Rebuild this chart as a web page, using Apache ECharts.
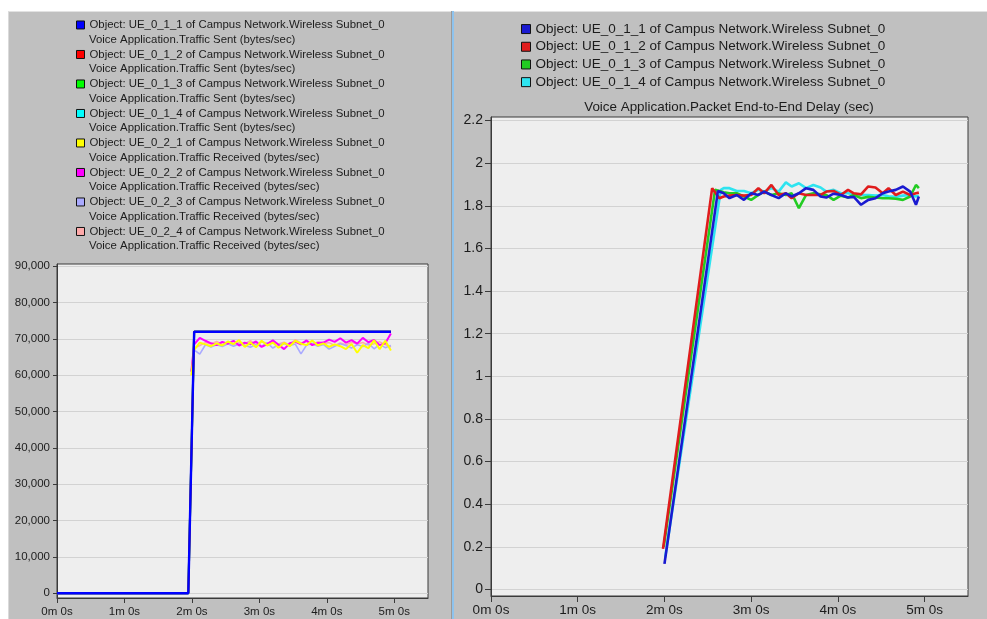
<!DOCTYPE html>
<html><head><meta charset="utf-8">
<script src="https://cdn.jsdelivr.net/npm/echarts@6/dist/echarts.min.js"></script>
<style>
html,body{margin:0;padding:0;background:#fff;width:987px;height:619px;overflow:hidden}
.p{position:absolute;box-sizing:border-box}
#chart{position:absolute;left:0;top:0;width:987px;height:619px}
</style></head><body>
<div class="p" style="left:8px;top:11px;width:443px;height:608px;background:#c0c0c0;border-top:1px solid #e2e2e2;border-left:1px solid #dadada"></div>
<div class="p" style="left:451px;top:11px;width:1px;height:608px;background:#9a9a9a"></div>
<div class="p" style="left:452px;top:11px;width:2px;height:608px;background:#8ec3ee"></div>
<div class="p" style="left:454px;top:11px;width:533px;height:608px;background:#c0c0c0;border-top:1px solid #e2e2e2"></div>
<div id="chart"></div>
<script>
// ---------- tick labels ----------
const timeTicks = [0, 60, 120, 180, 240, 300];
const leftYTicks = [0, 10000, 20000, 30000, 40000, 50000, 60000, 70000, 80000, 90000];
const rightYTicks = [0, 0.2, 0.4, 0.6, 0.8, 1, 1.2, 1.4, 1.6, 1.8, 2, 2.2];

// ---------- left chart: traffic sent / received ----------
const leftNames = [
  "Object: UE_0_1_1 of Campus Network.Wireless Subnet_0\nVoice Application.Traffic Sent (bytes/sec)",
  "Object: UE_0_1_2 of Campus Network.Wireless Subnet_0\nVoice Application.Traffic Sent (bytes/sec)",
  "Object: UE_0_1_3 of Campus Network.Wireless Subnet_0\nVoice Application.Traffic Sent (bytes/sec)",
  "Object: UE_0_1_4 of Campus Network.Wireless Subnet_0\nVoice Application.Traffic Sent (bytes/sec)",
  "Object: UE_0_2_1 of Campus Network.Wireless Subnet_0\nVoice Application.Traffic Received (bytes/sec)",
  "Object: UE_0_2_2 of Campus Network.Wireless Subnet_0\nVoice Application.Traffic Received (bytes/sec)",
  "Object: UE_0_2_3 of Campus Network.Wireless Subnet_0\nVoice Application.Traffic Received (bytes/sec)",
  "Object: UE_0_2_4 of Campus Network.Wireless Subnet_0\nVoice Application.Traffic Received (bytes/sec)"
];
const leftColors = ['#0000ff', '#ff0000', '#00ff00', '#00ffff', '#ffff00', '#ff00ff', '#aaaaff', '#ffaaaa'];

const sentTime = [0, 116.8, 122, 146, 147.5, 149, 297];
const sentValues = [0, 0, 72000, 72000, 72300, 72000, 72000];

const recvTime = [119.5, 122, 127, 132, 137, 142, 147, 152, 157, 162, 167, 172, 177, 182, 187, 192, 197, 202, 207, 212, 217, 222, 227, 232, 237, 242, 247, 252, 257, 262, 267, 272, 277, 282, 287, 292, 297];
const recvYellow = [60000, 67000, 69000, 68500, 68000, 68800, 68200, 69300, 68600, 69700, 67800, 69000, 67700, 69500, 68200, 69000, 67600, 68900, 68000, 69500, 68700, 68300, 69600, 68200, 68800, 67800, 68500, 68000, 67200, 68600, 66200, 68300, 67500, 69600, 67200, 69500, 66800];
const recvMagenta = [61000, 68500, 70300, 69500, 68800, 68300, 69200, 68700, 69500, 68200, 69000, 68500, 69300, 67800, 68600, 69600, 68400, 67200, 68800, 69200, 68500, 69600, 68300, 68900, 69000, 69800, 69200, 70200, 69000, 69700, 68700, 70300, 69100, 69700, 68300, 68800, 71500];
const recvLavender = [61000, 67000, 65800, 68400, 67800, 68400, 67900, 68700, 68000, 68600, 68300, 67700, 68500, 68000, 68900, 67500, 68400, 68700, 68200, 68600, 65900, 68300, 68800, 68000, 68500, 67200, 68000, 68700, 68200, 67500, 68400, 67900, 68800, 67300, 68500, 67600, 68200];
const recvPink = [61000, 67500, 68200, 69000, 68600, 69300, 68500, 69200, 68400, 69000, 68700, 69500, 68400, 69200, 68800, 69400, 68600, 69100, 68300, 69800, 68900, 69300, 68500, 69200, 68700, 69000, 68200, 68900, 68400, 69100, 68600, 69000, 68300, 68700, 69200, 68500, 67800];

// ---------- right chart: packet end-to-end delay ----------
const rightNames = [
  "Object: UE_0_1_1 of Campus Network.Wireless Subnet_0",
  "Object: UE_0_1_2 of Campus Network.Wireless Subnet_0",
  "Object: UE_0_1_3 of Campus Network.Wireless Subnet_0",
  "Object: UE_0_1_4 of Campus Network.Wireless Subnet_0"
];
const rightColors = ['#1a1ad0', '#e01c1c', '#22cc22', '#2ee4f0'];
const rightTitle = 'Voice Application.Packet End-to-End Delay (sec)';

const blueRiseT = [120, 157];   const blueRiseV = [0.12, 1.87];
const redRiseT = [119, 153, 158]; const redRiseV = [0.19, 1.883, 1.836];
const greenRiseT = [119.5, 155]; const greenRiseV = [0.2, 1.875];
const cyanRiseT = [120.5, 159]; const cyanRiseV = [0.15, 1.875];

const delayTime = [161, 165, 170, 175, 180, 185, 189, 194, 199, 204, 208, 213, 218, 223, 228, 232, 237, 242, 247, 251, 256, 261, 266, 271, 275, 280, 285, 290, 294, 296];
const delayBlue = [1.859, 1.836, 1.851, 1.828, 1.859, 1.851, 1.867, 1.851, 1.836, 1.859, 1.844, 1.859, 1.883, 1.875, 1.844, 1.839, 1.857, 1.851, 1.839, 1.842, 1.805, 1.828, 1.836, 1.859, 1.867, 1.875, 1.891, 1.867, 1.805, 1.844];
const delayRed = [1.844, 1.848, 1.851, 1.848, 1.851, 1.883, 1.859, 1.898, 1.851, 1.859, 1.836, 1.859, 1.851, 1.851, 1.851, 1.867, 1.870, 1.851, 1.875, 1.859, 1.854, 1.891, 1.886, 1.859, 1.883, 1.851, 1.867, 1.851, 1.859, 1.862];
const delayGreen = [1.864, 1.859, 1.859, 1.844, 1.828, 1.851, 1.867, 1.851, 1.859, 1.851, 1.859, 1.789, 1.851, 1.859, 1.854, 1.851, 1.828, 1.848, 1.839, 1.851, 1.836, 1.842, 1.839, 1.836, 1.836, 1.833, 1.828, 1.844, 1.898, 1.883];
const delayCyan = [1.883, 1.883, 1.870, 1.870, 1.859, 1.875, 1.867, 1.883, 1.867, 1.910, 1.891, 1.906, 1.883, 1.898, 1.886, 1.867, 1.875, 1.859, 1.859, 1.854, 1.851, 1.851, 1.848, 1.851, 1.845, 1.842, 1.848, 1.851, 1.844, 1.848];

// ---------- build ----------
const FONT = '"Liberation Sans", Arial, sans-serif';
const TXT = '#1c1c1c';
const AX = '#3a3a3a';
function zip(t, v) { return t.map((x, i) => [x, v[i]]); }
function timeFmt(v) { return (v / 60) + 'm 0s'; }

function lineSeries(name, color, data, width, xi, z) {
  return {
    type: 'line', name: name, data: data, xAxisIndex: xi, yAxisIndex: xi,
    showSymbol: false, symbol: 'none', z: z,
    itemStyle: { color: color },
    lineStyle: { color: color, width: width },
    animation: false
  };
}

const series = [];
// received (left)
series.push(lineSeries(leftNames[7], leftColors[7], zip(recvTime, recvPink), 1.6, 0, 2));
series.push(lineSeries(leftNames[6], leftColors[6], zip(recvTime, recvLavender), 1.6, 0, 2));
series.push(lineSeries(leftNames[5], leftColors[5], zip(recvTime, recvMagenta), 2, 0, 3));
series.push(lineSeries(leftNames[4], leftColors[4], zip(recvTime, recvYellow), 2, 0, 4));
// sent (left) – identical curves, blue on top
series.push(lineSeries(leftNames[3], leftColors[3], zip(sentTime, sentValues), 2, 0, 5));
series.push(lineSeries(leftNames[2], leftColors[2], zip(sentTime, sentValues), 2, 0, 5));
series.push(lineSeries(leftNames[1], leftColors[1], zip(sentTime, sentValues), 2, 0, 5));
series.push(lineSeries(leftNames[0], leftColors[0], zip(sentTime, sentValues), 2.4, 0, 6));
// delay (right)
series.push(lineSeries(rightNames[3], rightColors[3], zip(cyanRiseT.concat(delayTime), cyanRiseV.concat(delayCyan)), 2.6, 1, 2));
series.push(lineSeries(rightNames[2], rightColors[2], zip(greenRiseT.concat(delayTime), greenRiseV.concat(delayGreen)), 2.6, 1, 3));
series.push(lineSeries(rightNames[1], rightColors[1], zip(redRiseT.concat(delayTime), redRiseV.concat(delayRed)), 2.6, 1, 4));
series.push(lineSeries(rightNames[0], rightColors[0], zip(blueRiseT.concat(delayTime), blueRiseV.concat(delayBlue)), 2.6, 1, 5));

function xAxisCfg(gi, fs, tickLen, margin) {
  return {
    gridIndex: gi, type: 'value', min: 0, max: 330,
    axisLine: { show: true, onZero: false, lineStyle: { color: AX, width: 1 } },
    axisTick: { show: true, customValues: timeTicks, length: tickLen, lineStyle: { color: AX } },
    axisLabel: { customValues: timeTicks, formatter: timeFmt, fontFamily: FONT, fontSize: fs, color: TXT, margin: margin },
    splitLine: { show: false }
  };
}

// left legend: first text line with the colour square, second line beneath it
const LEG_LH = 14.75;
function leftLegend(top, lineIdx, withIcon) {
  return {
    orient: 'vertical', left: 76, top: top, padding: 0, itemGap: LEG_LH,
    itemWidth: 8, itemHeight: 8, icon: 'rect', selectedMode: false,
    itemStyle: withIcon
      ? { borderColor: '#111', borderWidth: 1 }
      : { color: 'rgba(0,0,0,0)', borderColor: 'rgba(0,0,0,0)', borderWidth: 0 },
    formatter: n => n.split('\n')[lineIdx],
    textStyle: { fontFamily: FONT, fontSize: 11.4, color: TXT, lineHeight: LEG_LH },
    data: leftNames
  };
}

const option = {
  animation: false,
  backgroundColor: 'transparent',
  title: {
    text: rightTitle, left: 729, top: 101, textAlign: 'center', padding: 0,
    textStyle: { fontFamily: FONT, fontSize: 13.4, fontWeight: 'normal', color: TXT }
  },
  legend: [
    leftLegend(17.6, 0, true),
    leftLegend(17.6 + LEG_LH, 1, false),
    {
      orient: 'vertical', left: 521, top: 20.2, padding: 0, itemGap: 0,
      itemWidth: 9, itemHeight: 9, icon: 'rect', selectedMode: false,
      itemStyle: { borderColor: '#111', borderWidth: 1 },
      textStyle: { fontFamily: FONT, fontSize: 13.5, color: TXT, lineHeight: 17.7 },
      data: rightNames
    }
  ],
  grid: [
    { left: 57, top: 264, width: 371, height: 334, show: true, backgroundColor: '#eeeeee', borderColor: AX, borderWidth: 1, containLabel: false },
    { left: 491, top: 117, width: 477, height: 479, show: true, backgroundColor: '#eeeeee', borderColor: AX, borderWidth: 1, containLabel: false }
  ],
  xAxis: [xAxisCfg(0, 11.5, 5, 8), xAxisCfg(1, 13.5, 6, 7)],
  yAxis: [
    {
      gridIndex: 0, type: 'value', min: -1300, max: 90630,
      axisLine: { show: true, onZero: false, lineStyle: { color: AX } },
      axisTick: { show: true, customValues: leftYTicks, length: 4, lineStyle: { color: AX } },
      axisLabel: { customValues: leftYTicks, formatter: v => v.toLocaleString('en-US'), fontFamily: FONT, fontSize: 11.5, color: TXT, margin: 7 },
      splitLine: { show: true, lineStyle: { color: '#d2d2d2', width: 1 } }
    },
    {
      gridIndex: 1, type: 'value', min: -0.031, max: 2.217,
      axisLine: { show: true, onZero: false, lineStyle: { color: AX } },
      axisTick: { show: true, customValues: rightYTicks, length: 6, lineStyle: { color: AX } },
      axisLabel: { customValues: rightYTicks, formatter: v => String(Math.round(v * 10) / 10), fontFamily: FONT, fontSize: 14, color: TXT, margin: 8 },
      splitLine: { show: true, lineStyle: { color: '#d2d2d2', width: 1 } }
    }
  ],
  series: series
};

const chart = echarts.init(document.getElementById('chart'), null, { renderer: 'canvas' });
chart.setOption(option);
</script>
</body></html>
